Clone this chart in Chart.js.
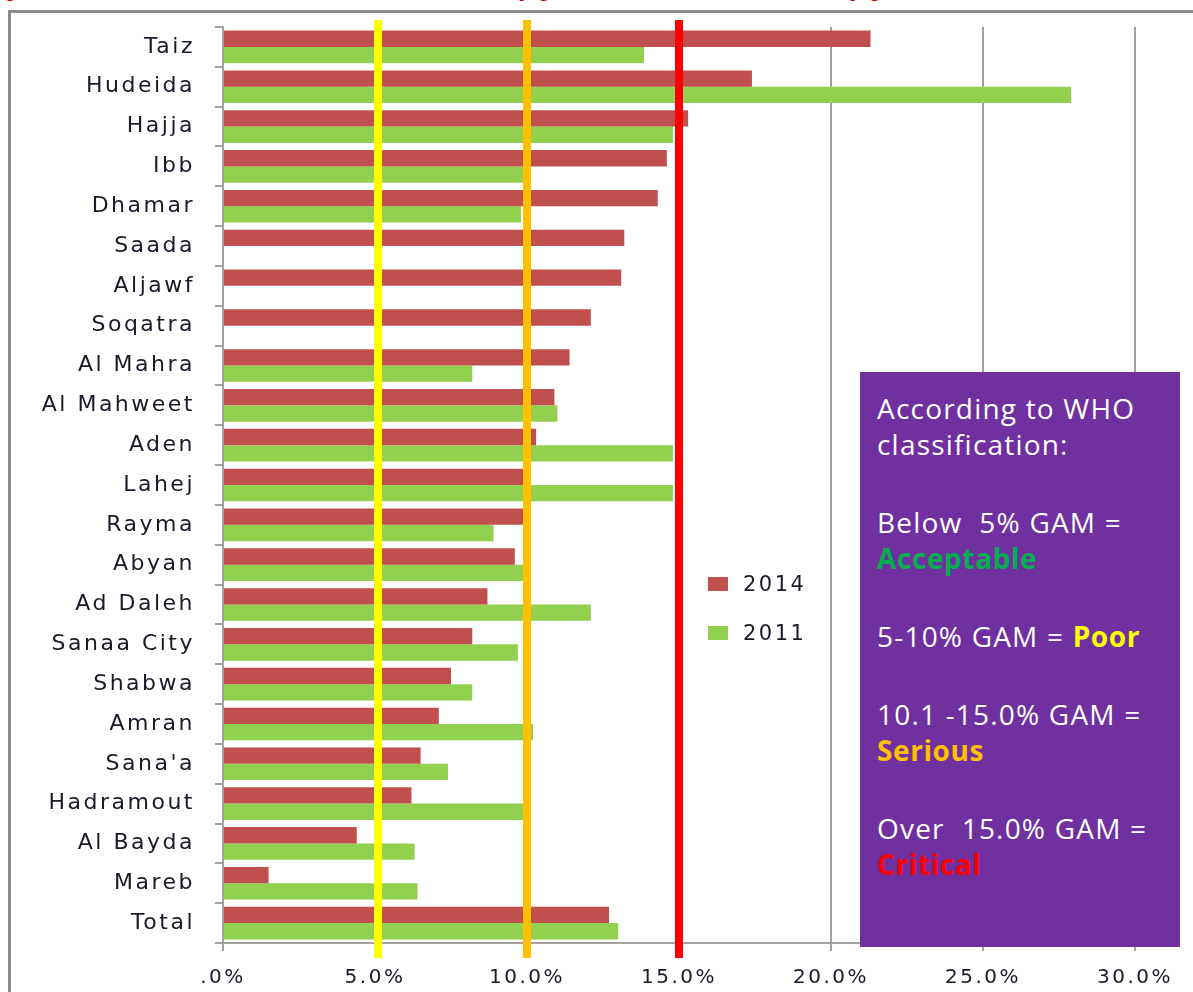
<!DOCTYPE html>
<html>
<head>
<meta charset="utf-8">
<script src="https://cdn.jsdelivr.net/npm/chart.js@4.4.1/dist/chart.umd.min.js"></script>
<style>
  body { margin: 0; background: #fff; overflow: hidden; }
  #wrap { position: relative; width: 1193px; height: 992px; overflow: hidden; }
  #frame { position: absolute; left: 8px; top: 10px; width: 1200px; height: 1000px; border: 3px solid #8c8c8c; box-sizing: border-box; }
  #title { position: absolute; left: -14px; top: -24px; font: italic bold 22px "Liberation Sans", Arial, sans-serif; color: #c00000; white-space: nowrap; }
  canvas { position: absolute; left: 0; top: 0; }
  #legend { position: absolute; left: 708px; top: 559px; font: 21px "DejaVu Sans", sans-serif; letter-spacing: 2.5px; color: #1a1a2a; }
  #legend div { height: 49px; display: flex; align-items: center; }
  #legend span.sw { display: inline-block; width: 20px; height: 14px; margin-right: 15px; }
  #who { position: absolute; left: 860px; top: 372px; width: 320px; height: 575px; background: #7030a0; color: #fff;
         font: 28px "Open Sans", sans-serif; letter-spacing: 1.2px; box-sizing: border-box; padding: 18px 0 0 17px; line-height: 36px; }
  #who p { margin: 0 0 42px 0; }
  #who b { font-weight: 700; letter-spacing: 0.6px; }
</style>
</head>
<body>
<div id="wrap">
  <div id="title">Figure 5: Prevalence of Global Acute Malnutrition by governorate, 2011 and 2014, by governorate</div>
  <div id="frame"></div>
  <canvas id="gamChart" width="1193" height="992"></canvas>
  <div id="legend">
    <div><span class="sw" style="background:#c0504d"></span>2014</div>
    <div><span class="sw" style="background:#92d050"></span>2011</div>
  </div>
  <div id="who">
    <p>According to WHO<br>classification:</p>
    <p>Below&nbsp; 5% GAM =<br><b style="color:#00b050">Acceptable</b></p>
    <p>5-10% GAM = <b style="color:#ffff00">Poor</b></p>
    <p>10.1 -15.0% GAM =<br><b style="color:#ffc000">Serious</b></p>
    <p>Over&nbsp; 15.0% GAM =<br><b style="color:#ff0000">Critical</b></p>
  </div>
</div>
<script>
// Données (% GAM)
const governorates = ['Taiz', 'Hudeida', 'Hajja', 'Ibb', 'Dhamar', 'Saada', 'Aljawf', 'Soqatra', 'Al Mahra',
    'Al Mahweet', 'Aden', 'Lahej', 'Rayma', 'Abyan', 'Ad Daleh', 'Sanaa City', 'Shabwa', 'Amran', "Sana'a",
    'Hadramout', 'Al Bayda', 'Mareb', 'Total'];
const gam2014 = [21.3, 17.4, 15.3, 14.6, 14.3, 13.2, 13.1, 12.1, 11.4, 10.9, 10.3, 9.9, 9.9, 9.6, 8.7, 8.2, 7.5,
    7.1, 6.5, 6.2, 4.4, 1.5, 12.7];
const gam2011 = [13.85, 27.9, 14.8, 10.0, 9.8, null, null, null, 8.2, 11.0, 14.8, 14.8, 8.9, 9.9, 12.1, 9.7, 8.2,
    10.2, 7.4, 9.9, 6.3, 6.4, 13.0];
const xTicks = [0, 5, 10, 15, 20, 25, 30];
// Seuils OMS
const thresholds = [5.1, 10, 15];
const thresholdColors = ['#ffff00', '#ffc000', '#ff0000'];

const axisGray = '#a3a3a3';

// Espacement des lettres comme dans l'original
const spacingPlugin = {
    id: 'spacing',
    beforeLayout(chart) { chart.ctx.letterSpacing = '2.5px'; },
    beforeDraw(chart) { chart.ctx.letterSpacing = '2.5px'; }
};

// Lignes verticales des seuils
const thresholdPlugin = {
    id: 'thresholds',
    afterDatasetsDraw(chart) {
        const ctx = chart.ctx;
        const x = chart.scales.x;
        const area = chart.chartArea;
        ctx.save();
        thresholds.forEach((t, i) => {
            const px = x.getPixelForValue(t);
            ctx.strokeStyle = thresholdColors[i];
            ctx.lineWidth = 8;
            ctx.beginPath();
            ctx.moveTo(px, 20);
            ctx.lineTo(px, area.bottom + 15);
            ctx.stroke();
        });
        ctx.restore();
    }
};

const ctx = document.getElementById('gamChart').getContext('2d');
const gamChart = new Chart(ctx, {
    type: 'bar',
    data: {
        labels: governorates,
        datasets: [
            {
                label: '2014',
                data: gam2014,
                backgroundColor: '#c0504d',
                categoryPercentage: 0.82,
                barPercentage: 1.0
            },
            {
                label: '2011',
                data: gam2011,
                backgroundColor: '#92d050',
                categoryPercentage: 0.82,
                barPercentage: 1.0
            }
        ]
    },
    options: {
        indexAxis: 'y',
        responsive: false,
        animation: false,
        layout: { padding: { left: 0, right: 58, top: 27, bottom: 0 } },
        plugins: {
            legend: { display: false },
            tooltip: { enabled: false }
        },
        scales: {
            x: {
                min: 0,
                max: 30,
                afterBuildTicks(scale) { scale.ticks = xTicks.map(v => ({ value: v })); },
                afterFit(scale) { scale.height = 49; },
                grid: { color: axisGray, lineWidth: 2, tickLength: 8 },
                border: { color: axisGray, width: 2 },
                ticks: {
                    padding: 15,
                    color: '#1a1a2a',
                    font: { family: 'DejaVu Sans', size: 20 },
                    callback: v => (v === 0 ? '.0%' : v.toFixed(1) + '%')
                }
            },
            y: {
                afterFit(scale) {
                    scale.width = 223;
                    scale.paddingTop = 0;
                    scale.paddingBottom = 0;
                },
                grid: { drawOnChartArea: false, color: axisGray, lineWidth: 2, tickLength: 8, offset: true },
                border: { color: axisGray, width: 2 },
                ticks: {
                    padding: 20,
                    color: '#1a1a2a',
                    font: { family: 'DejaVu Sans', size: 22 }
                }
            }
        }
    },
    plugins: [spacingPlugin, thresholdPlugin]
});
</script>
</body>
</html>
